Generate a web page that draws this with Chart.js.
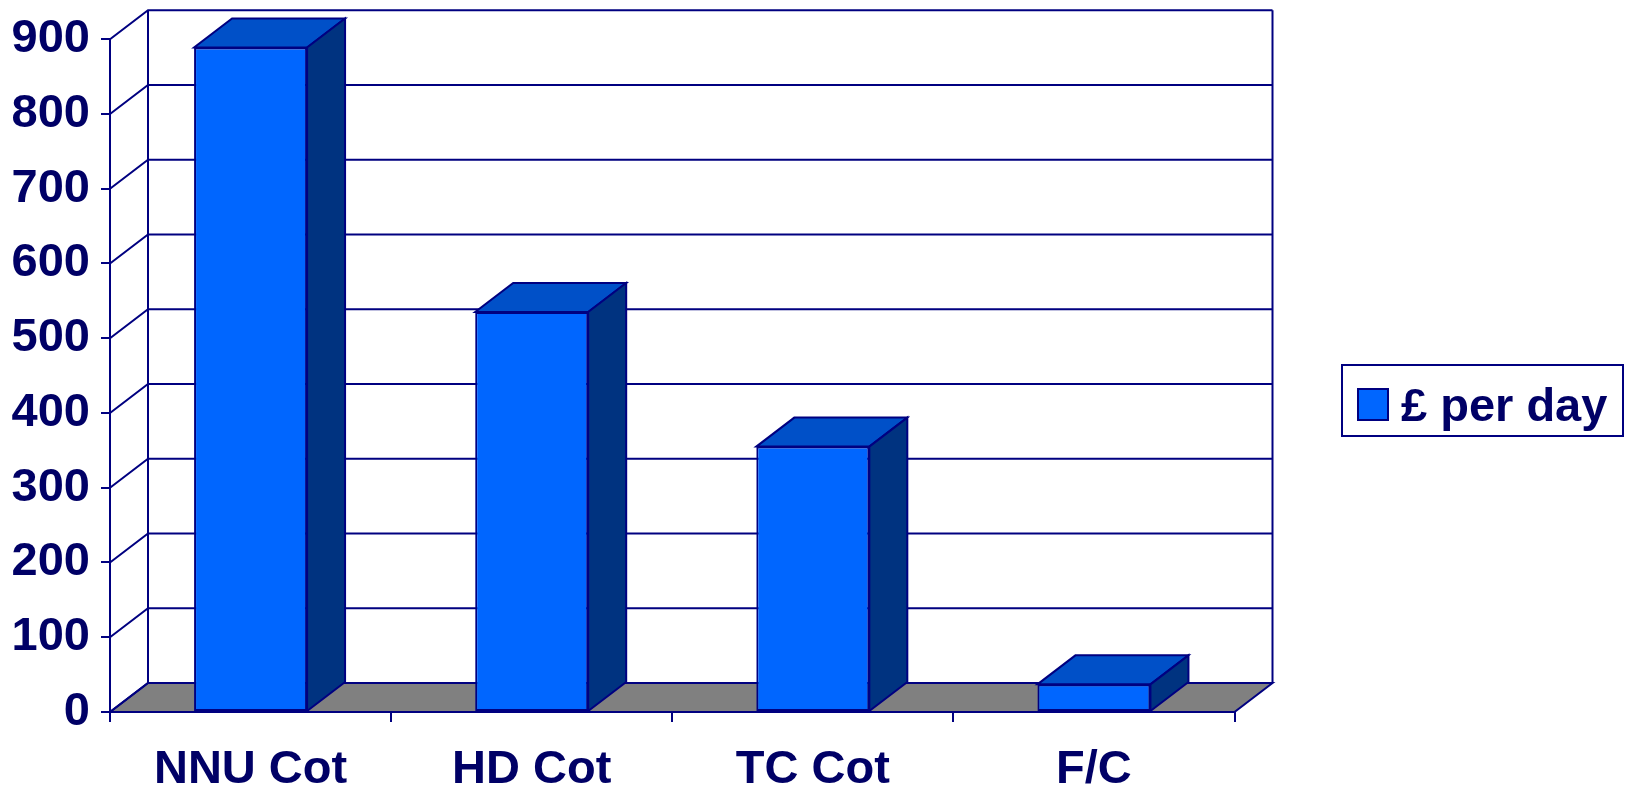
<!DOCTYPE html>
<html>
<head>
<meta charset="utf-8">
<title>£ per day</title>
<script src="https://cdn.jsdelivr.net/npm/chart.js@4.4.1/dist/chart.umd.min.js"></script>
<style>
  html, body { margin: 0; padding: 0; background: #ffffff; }
  #wrap { width: 1628px; height: 788px; }
</style>
</head>
<body>
<div id="wrap"><canvas id="cost-chart"></canvas></div>
<script>
const categories = ["NNU Cot", "HD Cot", "TC Cot", "F/C"];
const costPerDay = [889, 535, 355, 37];
const seriesName = "£ per day";
const yTicks = [0, 100, 200, 300, 400, 500, 600, 700, 800, 900];

const navy = "#000080";
const textColor = "#000066";
const frontColor = "#0066ff";
const topColor = "#0050c8";
const sideColor = "#003380";
const floorColor = "#808080";
const depthX = 38;
const depthY = -29;
const font = {family: "'Liberation Sans', Arial, sans-serif", size: 47, weight: "bold"};

function fillPoly(ctx, pts, fill) {
    ctx.beginPath();
    ctx.moveTo(pts[0][0], pts[0][1]);
    for (let i = 1; i < pts.length; i++) {
        ctx.lineTo(pts[i][0], pts[i][1]);
    }
    ctx.closePath();
    ctx.fillStyle = fill;
    ctx.fill();
    ctx.stroke();
}

// draws the walls, floor and the top/side faces of the columns
const box3d = {
    id: "box3d",
    beforeDatasetsDraw(chart) {
        const ctx = chart.ctx;
        const area = chart.chartArea;
        const y = chart.scales.y;
        const top = y.getPixelForValue(yTicks[yTicks.length - 1]);
        const base = y.getPixelForValue(0);
        ctx.save();
        ctx.strokeStyle = navy;
        ctx.lineWidth = 2;
        ctx.lineJoin = "miter";

        fillPoly(ctx, [
            [area.left, base], [area.right, base],
            [area.right + depthX, base + depthY], [area.left + depthX, base + depthY]
        ], floorColor);

        yTicks.forEach(v => {
            const py = y.getPixelForValue(v);
            ctx.beginPath();
            ctx.moveTo(area.left, py);
            ctx.lineTo(area.left + depthX, py + depthY);
            ctx.lineTo(area.right + depthX, py + depthY);
            ctx.stroke();
        });

        ctx.beginPath();
        ctx.moveTo(area.left + depthX, base + depthY);
        ctx.lineTo(area.left + depthX, top + depthY);
        ctx.moveTo(area.right + depthX, base + depthY);
        ctx.lineTo(area.right + depthX, top + depthY);
        ctx.stroke();
        ctx.restore();
    },
    afterDatasetsDraw(chart) {
        const ctx = chart.ctx;
        ctx.save();
        ctx.strokeStyle = navy;
        ctx.lineWidth = 2;
        chart.getDatasetMeta(0).data.forEach(bar => {
            const l = bar.x - bar.width / 2;
            const r = bar.x + bar.width / 2;
            const t = bar.y;
            const b = bar.base;
            fillPoly(ctx, [[l, t], [r, t], [r + depthX, t + depthY], [l + depthX, t + depthY]], topColor);
            fillPoly(ctx, [[r, t], [r + depthX, t + depthY], [r + depthX, b + depthY], [r, b]], sideColor);
        });
        ctx.restore();
    },
    afterDraw(chart) {
        // legend box on the right
        const ctx = chart.ctx;
        const ds = chart.data.datasets[0];
        ctx.save();
        ctx.strokeStyle = navy;
        ctx.lineWidth = 2;
        ctx.strokeRect(1342, 365, 281, 71);
        ctx.fillStyle = ds.backgroundColor;
        ctx.fillRect(1358, 389, 30, 31);
        ctx.strokeRect(1358, 389, 30, 31);
        ctx.fillStyle = textColor;
        ctx.font = "bold 47px 'Liberation Sans', Arial, sans-serif";
        ctx.textBaseline = "alphabetic";
        ctx.fillText(ds.label, 1401, 421);
        ctx.restore();
    }
};

const ctx = document.getElementById("cost-chart").getContext("2d");
new Chart(ctx, {
    type: "bar",
    data: {
        labels: categories,
        datasets: [{
            label: seriesName,
            data: costPerDay,
            backgroundColor: frontColor,
            borderColor: navy,
            borderWidth: 2,
            borderSkipped: false,
            barPercentage: 0.402,
            categoryPercentage: 1
        }]
    },
    options: {
        responsive: true,
        maintainAspectRatio: false,
        animation: false,
        layout: {
            padding: {left: 0, right: 393.5, top: 39, bottom: 0}
        },
        scales: {
            x: {
                z: 1,
                grid: {display: true, drawOnChartArea: false, offset: true, tickLength: 10, color: navy, lineWidth: 2},
                border: {display: true, color: navy, width: 2},
                ticks: {color: textColor, font: font, padding: 20, maxRotation: 0},
                afterFit: scale => { scale.height = 76; }
            },
            y: {
                z: 1,
                min: 0,
                max: 900,
                grid: {display: true, drawOnChartArea: false, tickLength: 9, color: navy, lineWidth: 2},
                border: {display: true, color: navy, width: 2},
                ticks: {stepSize: 100, color: textColor, font: font, padding: 11},
                afterFit: scale => { scale.width = 110; }
            }
        },
        plugins: {
            legend: {display: false},
            tooltip: {enabled: false}
        }
    },
    plugins: [box3d]
});
</script>
</body>
</html>
